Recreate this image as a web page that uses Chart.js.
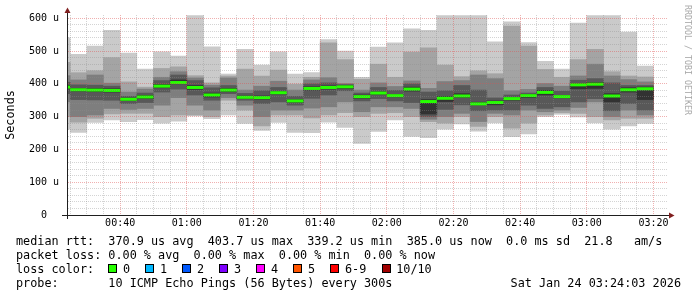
<!DOCTYPE html>
<html>
<head>
<meta charset="utf-8">
<script src="https://cdn.jsdelivr.net/npm/chart.js@4.4.1/dist/chart.umd.min.js"></script>
<style>
  html, body { margin:0; padding:0; background:#fff; }
  #wrap { position:relative; width:697px; height:297px; overflow:hidden; background:#fff; }
  #chart { position:absolute; left:0; top:0; width:697px; height:297px; }
  .row { position:absolute; height:14px; line-height:14px; font-family:'DejaVu Sans Mono', monospace; font-size:11.8px; white-space:pre; color:#000; }
  .box { position:absolute; width:9px; height:9px; box-sizing:border-box; border:1px solid #000; }
  #wm { position:absolute; left:693px; top:5px; transform-origin:0 0; transform:rotate(90deg); font-family:'DejaVu Sans Mono', monospace; font-size:8.3px; line-height:10px; color:#a8a8a8; white-space:pre; }
</style>
</head>
<body>
<div id="wrap">
  <canvas id="chart" width="697" height="297"></canvas>
  <div id="wm">RRDTOOL / TOBI OETIKER</div>
  <div class="row" style="left:16px;top:234px">median rtt:  370.9 us avg  403.7 us max  339.2 us min  385.0 us now  0.0 ms sd  21.8   am/s</div>
  <div class="row" style="left:16px;top:248px">packet loss: 0.00 % avg  0.00 % max  0.00 % min  0.00 % now</div>
  <div class="row" style="left:16px;top:262px">loss color:</div>
  <div class="row" style="left:16px;top:276px">probe:       10 ICMP Echo Pings (56 Bytes) every 300s</div>
  <div class="row" style="right:16px;top:276px">Sat Jan 24 03:24:03 2026</div>
</div>
<script>
// ---- data (5-minute slots, start time of each slot) ----
const slotStart = ['00:20','00:25','00:30','00:35','00:40','00:45','00:50','00:55',
  '01:00','01:05','01:10','01:15','01:20','01:25','01:30','01:35','01:40','01:45','01:50','01:55',
  '02:00','02:05','02:10','02:15','02:20','02:25','02:30','02:35','02:40','02:45','02:50','02:55',
  '03:00','03:05','03:10','03:15'];
// sorted ping rtts per slot (microseconds), ping1 = fastest ... ping10 = slowest
const ping1  = [262,252,282,290,285,291,280,286,302,294,305,279,258,282,252,251,283,267,218,255,290,240,236,262,278,256,281,239,247,300,307,299,281,262,272,279];
const ping2  = [300,283,295,308,310,310,300,305,305,300,350,320,272,305,305,296,305,312,300,310,312,300,285,280,300,270,300,265,280,305,312,310,300,290,295,295];
const ping3  = [345,300,305,325,322,325,335,358,335,320,358,335,300,320,320,326,330,345,315,330,330,325,292,300,310,285,310,305,320,315,320,328,345,300,320,305];
const ping4  = [370,352,351,350,340,343,375,384,366,350,370,350,340,345,335,356,366,379,348,355,348,343,300,322,336,318,320,320,335,325,330,345,355,318,340,320];
const ping5  = [385,378,376,375,349,355,388,400,383,360,376,355,353,369,344,381,384,386,356,368,360,378,308,346,358,336,336,350,358,366,357,385,386,345,375,352];
const ping6  = [395,386,386,385,357,365,398,412,395,372,386,363,363,377,352,391,394,396,366,376,368,390,352,362,370,344,348,358,368,380,365,401,404,370,388,390];
const ping7  = [405,397,396,393,362,372,410,427,410,388,395,371,379,389,362,400,403,397,372,389,380,400,375,379,395,381,357,366,372,389,378,411,416,403,395,395];
const ping8  = [425,412,427,402,375,384,420,437,418,396,418,381,393,408,381,412,419,401,381,403,392,409,386,407,410,427,416,379,383,401,393,424,460,424,413,406];
const ping9  = [466,434,440,480,406,390,447,452,425,403,424,445,424,442,399,420,525,474,414,460,420,497,510,457,422,440,431,576,515,444,420,474,505,437,424,421];
const ping10 = [540,490,515,563,494,445,498,485,608,513,430,505,457,498,430,434,535,500,420,512,525,568,563,608,608,608,528,589,526,469,445,585,608,608,558,454];
const median = [390,382,381,380,353,360,393,404,389,366,381,359,358,373,348,386,389,391,361,372,364,384,346,356,363,339,343,355,364,374,361,397,399,363,382,385];
const loss   = [0,0,0,0,0,0,0,0,0,0,0,0,0,0,0,0,0,0,0,0,0,0,0,0,0,0,0,0,0,0,0,0,0,0,0,0];

const xTickLabels = ['00:40','01:00','01:20','01:40','02:00','02:20','02:40','03:00','03:20'];
const yTickValues = [0,100,200,300,400,500,600];
const yTickLabels = ['0','100 u','200 u','300 u','400 u','500 u','600 u'];
const lossLabels = ['0','1','2','3','4','5','6-9','10/10'];
const lossColors = ['#26ff00','#00b8ff','#0059ff','#7e00ff','#ff00ff','#ff5500','#ff0000','#a10000'];
const lossIndex  = [0,1,2,3,4,5,6,6,6,6,7];

// ---- styles ----
const toMin = s => { const p = s.split(':').map(Number); return p[0]*60 + p[1]; };
const SLOT = 5;
const X_MIN = toMin('00:24') + 3/60, X_MAX = toMin('03:24') + 3/60;
const GRID = 'rgba(143,143,143,0.38)';
const MGRID = 'rgba(222,79,79,0.45)';
const FONT = 'DejaVu Sans Mono';
const shades = ['#cacaca','#a4a4a4','#7e7e7e','#585858','#323232'];
const pings = [ping1,ping2,ping3,ping4,ping5,ping6,ping7,ping8,ping9,ping10];
const centers = slotStart.map(s => toMin(s) + SLOT/2);
const xMajor = xTickLabels.map(toMin);

const datasets = shades.map((c, i) => ({
  type: 'bar',
  label: 'smoke' + (i+1),
  data: centers.map((x, k) => ({x: x, y: [pings[i][k], pings[9-i][k]]})),
  backgroundColor: c,
  borderWidth: 0,
  borderSkipped: false,
  grouped: false,
  barPercentage: 1,
  categoryPercentage: 1,
  clip: 0,
  order: 10 - i
}));
datasets.push({
  type: 'line',
  label: 'median rtt',
  data: centers.map((x, k) => ({x: x, y: median[k]})),
  showLine: false,
  pointStyle: 'line',
  pointBorderWidth: 3,
  pointBorderColor: ctx => lossColors[lossIndex[loss[ctx.dataIndex] || 0]],
  pointBackgroundColor: ctx => lossColors[lossIndex[loss[ctx.dataIndex] || 0]],
  pointRadius: ctx => {
    const s = ctx.chart.scales && ctx.chart.scales.x;
    return s ? Math.abs(s.getPixelForValue(SLOT) - s.getPixelForValue(0)) / 2 : 8.33;
  },
  clip: 0,
  order: 0
});

const arrows = {
  id: 'arrows',
  afterDraw(chart) {
    const {ctx, chartArea: a} = chart;
    const bx = Math.round(a.left) + 0.5, by = Math.round(a.bottom) + 0.5;
    ctx.save();
    ctx.strokeStyle = '#1f1f1f';
    ctx.lineWidth = 1;
    ctx.beginPath();
    ctx.moveTo(a.left - 5, by); ctx.lineTo(a.right + 3, by);
    ctx.moveTo(bx, a.bottom + 4); ctx.lineTo(bx, a.top - 3);
    ctx.stroke();
    ctx.fillStyle = '#801f1f';
    ctx.beginPath();
    ctx.moveTo(a.right + 2, by - 3); ctx.lineTo(a.right + 7.5, by); ctx.lineTo(a.right + 2, by + 3);
    ctx.closePath(); ctx.fill();
    ctx.beginPath();
    ctx.moveTo(bx - 3, a.top - 2); ctx.lineTo(bx, a.top - 7.5); ctx.lineTo(bx + 3, a.top - 2);
    ctx.closePath(); ctx.fill();
    ctx.restore();
  }
};

new Chart(document.getElementById('chart'), {
  type: 'bar',
  data: { datasets: datasets },
  plugins: [arrows],
  options: {
    responsive: false,
    animation: false,
    events: [],
    layout: { padding: { left: 0, top: 15, right: 30, bottom: 62 } },
    plugins: { legend: { display: false }, tooltip: { enabled: false } },
    scales: {
      x: {
        type: 'linear',
        min: X_MIN, max: X_MAX,
        offset: false,
        afterBuildTicks: s => {
          const t = [];
          for (let v = Math.ceil(X_MIN / SLOT) * SLOT; v <= X_MAX; v += SLOT) t.push({value: v});
          s.ticks = t;
        },
        afterFit: s => { s.height = 20; },
        ticks: {
          autoSkip: false, maxRotation: 0, padding: 2,
          font: { family: FONT, size: 10 }, color: '#000',
          callback: v => { const i = xMajor.indexOf(v); return i >= 0 ? xTickLabels[i] : ''; }
        },
        grid: {
          offset: false, drawTicks: false, z: 1, lineWidth: 1,
          color: c => (c.tick && xMajor.indexOf(c.tick.value) >= 0) ? MGRID : GRID
        },
        border: { display: true, color: '#1f1f1f', width: 1, dash: [1, 1], z: 2 }
      },
      y: {
        type: 'linear',
        min: 0, max: 610,
        afterBuildTicks: s => {
          const t = [];
          for (let v = 0; v <= 600; v += 20) t.push({value: v});
          s.ticks = t;
        },
        afterFit: s => { s.width = 67; },
        ticks: {
          autoSkip: false, padding: 8,
          font: { family: FONT, size: 10 }, color: '#000',
          callback: v => {
            const i = yTickValues.indexOf(v);
            if (i < 0) return '';
            const l = yTickLabels[i];
            return l.indexOf(' ') < 0 ? l + '  ' : l;
          }
        },
        grid: {
          drawTicks: false, z: 1, lineWidth: 1,
          color: c => (c.tick && yTickValues.indexOf(c.tick.value) >= 0) ? MGRID : GRID
        },
        border: { display: true, color: '#1f1f1f', width: 1, dash: [1, 1], z: 2 },
        title: {
          display: true, text: 'Seconds', color: '#000',
          font: { family: FONT, size: 11.8 },
          padding: { top: 4, bottom: 0 }
        }
      }
    }
  }
});

// loss colour legend
(function () {
  const wrap = document.getElementById('wrap');
  const CW = 7.1;
  let bx = 16 + 13 * CW;
  lossLabels.forEach((lab, i) => {
    const b = document.createElement('div');
    b.className = 'box';
    b.style.left = bx + 'px';
    b.style.top = '264px';
    b.style.background = lossColors[i];
    wrap.appendChild(b);
    const t = document.createElement('div');
    t.className = 'row';
    t.style.left = (bx + 14.7) + 'px';
    t.style.top = '262px';
    t.textContent = lab;
    wrap.appendChild(t);
    bx += 14.7 + lab.length * CW + 15.2;
  });
})();
</script>
</body>
</html>
